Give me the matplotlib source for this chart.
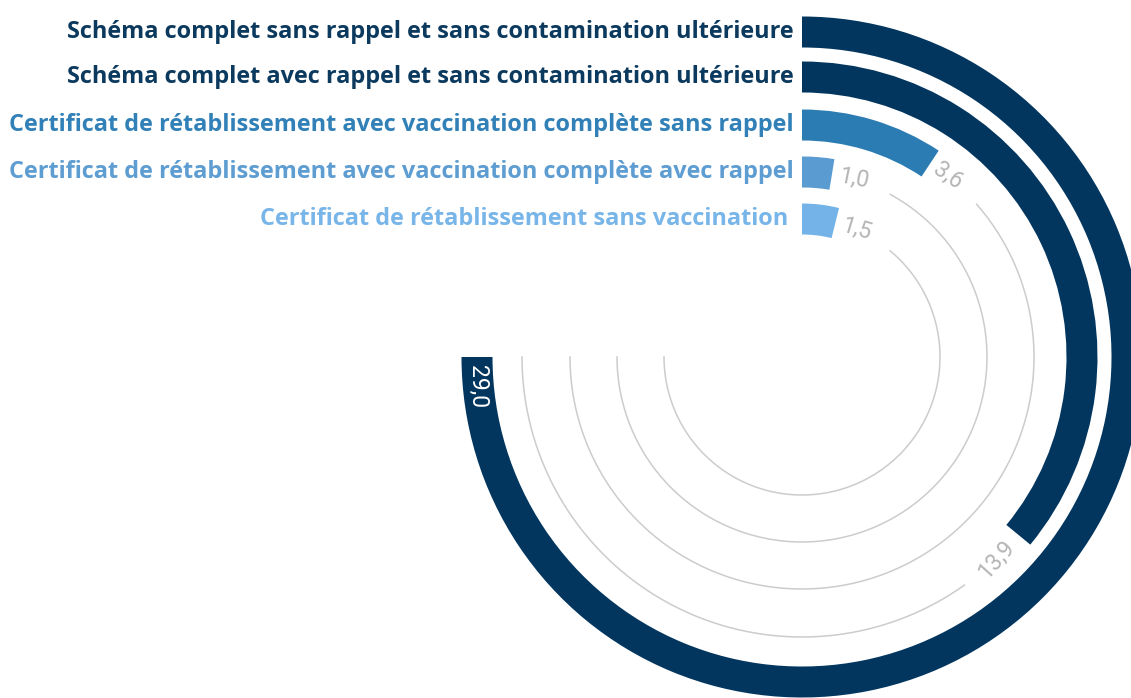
import numpy as np
import matplotlib
matplotlib.use("Agg")
import matplotlib.pyplot as plt

# ---- data ----
categories = [
    "Schéma complet sans rappel et sans contamination ultérieure",
    "Schéma complet avec rappel et sans contamination ultérieure",
    "Certificat de rétablissement avec vaccination complète sans rappel",
    "Certificat de rétablissement avec vaccination complète avec rappel",
    "Certificat de rétablissement sans vaccination ",
]
values = [29.0, 13.9, 3.6, 1.0, 1.5]
value_labels = ["29,0", "13,9", "3,6", "1,0", "1,5"]
colors = ["#02365f", "#02365f", "#2c7cb4", "#5a9bd1", "#74b3e8"]
text_colors = ["#0c3a5e", "#0c3a5e", "#3181b8", "#5e9dd1", "#78b5e8"]

# ---- layout ----
W, H = 1131, 698
cx, cy = 802, 357       # centre of the rings in image pixels
RL = 345                # radial limit (data units == pixels)
radii = [325, 280, 232, 185, 138]
bar_w = 31
max_val = 29.0
max_angle = np.deg2rad(270)
grey = "#b5b5b5"

fig = plt.figure(figsize=(W / 100, H / 100), dpi=100)
ax = fig.add_axes([(cx - RL) / W, (H - cy - RL) / H, 2 * RL / W, 2 * RL / H],
                  projection="polar")
ax.set_theta_zero_location("N")
ax.set_theta_direction(-1)
ax.set_ylim(0, RL)
ax.set_axis_off()

def ang(v):
    return v / max_val * max_angle

for i, (v, r) in enumerate(zip(values, radii)):
    th = ang(v)
    ax.bar(0, bar_w, width=th, bottom=r - bar_w / 2, align="edge",
           color=colors[i], edgecolor="none", zorder=3)
    # category label at the start of the ring
    ax.annotate(categories[i], xy=(0, r), xytext=(-8, 0), textcoords="offset pixels",
                ha="right", va="center", fontsize=16.9, fontweight="bold",
                color=text_colors[i], family="Open Sans")
    if i == 0:
        # label inside the bar, at its end, reading downward
        thl = th - 8 / r
        ax.text(thl, r, value_labels[i], rotation=-90, rotation_mode="anchor",
                ha="left", va="center", color="white", fontsize=16.5,
                family="Roboto", zorder=4)
        continue
    # grey track after label
    gap = (len(value_labels[i]) * 12 + 26) / r
    t0 = th + gap
    tt = np.linspace(t0, max_angle, 300)
    ax.plot(tt, np.full_like(tt, r), color="#cccccc", lw=1.1, zorder=1)
    thl = th + (7 if len(value_labels[i]) < 4 else 12) / r
    deg = np.rad2deg(thl)
    if 90 < deg < 270:
        rot, ha = -deg + 180, "right"
    else:
        rot, ha = -deg, "left"
    ax.text(thl, r, value_labels[i], rotation=rot, rotation_mode="anchor",
            ha=ha, va="center", color=grey, fontsize=16.5,
            family="Roboto", zorder=4)

fig.savefig("out.png", dpi=100, facecolor="white")
